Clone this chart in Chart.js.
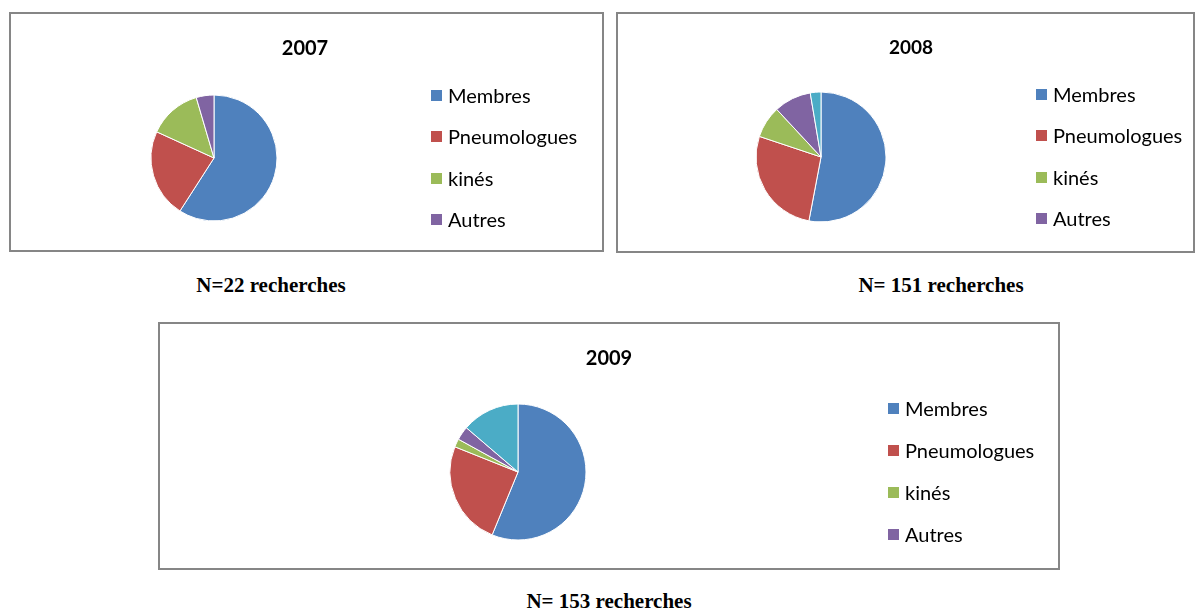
<!DOCTYPE html>
<html>
<head>
<meta charset="utf-8">
<script src="https://cdn.jsdelivr.net/npm/chart.js@4.4.1/dist/chart.umd.min.js"></script>
<style>
  body { margin: 0; background: #fff; width: 1195px; height: 610px; position: relative; overflow: hidden; }
  .box { position: absolute; border: 2px solid #868686; box-sizing: border-box; background: #fff; }
  .box canvas { position: absolute; left: 0; top: 0; }
  .title { position: absolute; font-family: Lato, "Noto Sans", sans-serif; font-weight: bold; color: #000; white-space: nowrap; transform: translate(-50%, -50%); }
  .legend-item { position: absolute; font-family: Lato, "Noto Sans", sans-serif; font-size: 20px; color: #000; white-space: nowrap; line-height: 20px; }
  .legend-item span.sq { position: absolute; left: 0; top: 4px; width: 11px; height: 11px; }
  .legend-item span.tx { position: absolute; left: 17px; top: -1px; }
  .caption { position: absolute; font-family: "Liberation Serif", "Times New Roman", serif; font-weight: bold; font-size: 21px; color: #000; white-space: nowrap; transform: translate(-50%, -50%); }
</style>
</head>
<body>

<script>
const categories = ['Membres', 'Pneumologues', 'kinés', 'Autres'];
const years = ['2007', '2008', '2009'];
const values2007 = [13, 5, 3, 1];
const values2008 = [80, 41, 12, 14, 4];
const values2009 = [86, 38, 3, 5, 21];
const captions = ['N=22 recherches', 'N= 151 recherches', 'N= 153 recherches'];

const colors = ['#4F81BD', '#C0504D', '#9BBB59', '#8064A2', '#4BACC6'];

// Position des cadres (pas des données)
const layouts = [
    { box: [9, 12, 595, 240], pie: [214, 158, 63], title: [305, 47, 20], legend: [431, 96, 41.3], caption: [271, 285] },
    { box: [616, 12, 579, 241], pie: [821, 157, 65], title: [911, 46, 19], legend: [1036, 95, 41.3], caption: [941, 285] },
    { box: [158, 322, 902, 248], pie: [518, 472, 68], title: [609, 357, 20], legend: [888, 409, 42], caption: [609, 601] }
];

const allValues = [values2007, values2008, values2009];

function makeChart(i) {
    let L = layouts[i];
    let [bx, by, bw, bh] = L.box;
    let [cx, cy, r] = L.pie;

    let div = document.createElement('div');
    div.className = 'box';
    div.style.left = bx + 'px';
    div.style.top = by + 'px';
    div.style.width = bw + 'px';
    div.style.height = bh + 'px';
    document.body.appendChild(div);

    let cl = bx + 2, ct = by + 2, cw = bw - 4, ch = bh - 4;
    let canvas = document.createElement('canvas');
    canvas.width = cw;
    canvas.height = ch;
    canvas.style.width = cw + 'px';
    canvas.style.height = ch + 'px';
    div.appendChild(canvas);

    let rr = r + 0.5;

    new Chart(canvas, {
        type: 'pie',
        data: {
            labels: categories,
            datasets: [{
                data: allValues[i],
                backgroundColor: colors.slice(0, allValues[i].length),
                borderColor: '#ffffff',
                borderWidth: 1,
                hoverOffset: 0
            }]
        },
        options: {
            responsive: false,
            animation: false,
            layout: {
                padding: {
                    left: cx - rr - cl,
                    right: cl + cw - (cx + rr),
                    top: cy - rr - ct,
                    bottom: ct + ch - (cy + rr)
                }
            },
            plugins: {
                legend: { display: false },
                tooltip: { enabled: false },
                title: { display: false }
            }
        }
    });

    let t = document.createElement('div');
    t.className = 'title';
    t.style.left = L.title[0] + 'px';
    t.style.top = L.title[1] + 'px';
    t.style.fontSize = L.title[2] + 'px';
    t.textContent = years[i];
    document.body.appendChild(t);

    // légende (4 catégories seulement, comme sur l'original)
    let [lx, ly, step] = L.legend;
    categories.forEach((c, k) => {
        let item = document.createElement('div');
        item.className = 'legend-item';
        item.style.left = lx + 'px';
        item.style.top = (ly + k * step - 10) + 'px';
        item.innerHTML = `<span class="sq" style="background:${colors[k]}"></span><span class="tx">${c}</span>`;
        document.body.appendChild(item);
    });

    let cap = document.createElement('div');
    cap.className = 'caption';
    cap.style.left = L.caption[0] + 'px';
    cap.style.top = L.caption[1] + 'px';
    cap.textContent = captions[i];
    document.body.appendChild(cap);
}

for (let i = 0; i < 3; i++) {
    makeChart(i);
}
</script>
</body>
</html>
